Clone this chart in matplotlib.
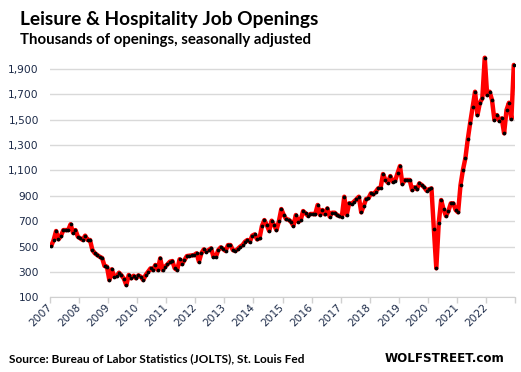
import matplotlib
matplotlib.use('Agg')
import matplotlib.pyplot as plt
import numpy as np

# Monthly job openings (thousands), Jan 2007 - Dec 2022
openings = [
    # 2007
    505, 552, 623, 557, 583, 630, 630, 630, 676, 609, 630, 578,
    # 2008
    565, 552, 586, 552, 552, 473, 447, 434, 420, 410, 347, 342,
    # 2009
    236, 321, 262, 267, 294, 273, 247, 197, 276, 250, 270, 250,
    # 2010
    273, 262, 236, 276, 302, 328, 315, 355, 315, 407, 315, 342,
    # 2011
    360, 381, 386, 328, 315, 400, 362, 394, 425, 428, 430, 433,
    # 2012
    447, 381, 447, 478, 460, 473, 486, 420, 420, 473, 494, 481,
    # 2013
    465, 512, 512, 473, 465, 481, 499, 512, 538, 552, 538, 586,
    # 2014
    596, 557, 565, 662, 709, 670, 623, 704, 670, 630, 699, 796,
    # 2015
    749, 717, 712, 696, 664, 749, 696, 709, 780, 762, 743, 757,
    # 2016
    757, 754, 828, 749, 788, 754, 801, 736, 767, 767, 749, 741,
    # 2017
    736, 893, 749, 841, 836, 854, 873, 893, 770, 820, 875, 881,
    # 2018
    920, 912, 933, 959, 964, 1072, 1025, 1004, 1056, 1012, 1020, 1078,
    # 2019
    1135, 993, 1025, 1025, 1025, 946, 967, 952, 999, 985, 967, 941,
    # 2020
    952, 959, 636, 329, 683, 867, 794, 741, 780, 841, 841, 788,
    # 2021
    770, 985, 1104, 1196, 1346, 1477, 1598, 1721, 1537, 1634, 1669, 1989,
    # 2022
    1695, 1721, 1656, 1498, 1537, 1493, 1511, 1393, 1577, 1634, 1506, 1932,
]
years = [str(y) for y in range(2007, 2023)]
yticks = [100, 300, 500, 700, 900, 1100, 1300, 1500, 1700, 1900]

title = "Leisure & Hospitality Job Openings"
subtitle = "Thousands of openings, seasonally adjusted"
source = "Source: Bureau of Labor Statistics (JOLTS), St. Louis Fed"
brand = "WOLFSTREET.com"

fig = plt.figure(figsize=(5.21, 3.72), dpi=100)
ax = fig.add_axes([0.096, 0.2008, 0.8925, 0.6546])

x = np.arange(len(openings)) + 0.5
ax.plot(x, openings, color='#ff0000', lw=3.2, zorder=3,
        solid_joinstyle='round', solid_capstyle='round')
ax.plot(x, openings, 'o', color='black', ms=2.7, mec='none', zorder=4)

ax.set_xlim(0, len(openings))
ax.set_ylim(100, 2020)
ax.set_yticks(yticks)
ax.set_yticklabels([f'{v:,}' for v in yticks])
ax.yaxis.grid(True, color='#d9d9d9', lw=1, zorder=0)
ax.set_axisbelow(True)

ax.set_xticks(np.arange(0, len(openings) + 1, 12))
ax.set_xticklabels(years + [''], rotation=45, ha='right', va='center',
                   rotation_mode='anchor')

for s in ['top', 'right', 'left']:
    ax.spines[s].set_visible(False)
ax.spines['bottom'].set_color('#d0d0d0')
ax.tick_params(axis='y', length=0, pad=8, labelsize=7.7, labelcolor='#1c2a48')
ax.tick_params(axis='x', length=4, width=1, color='#d0d0d0', direction='out',
               pad=2, labelsize=7.7, labelcolor='#1c2a48')

fig.text(20/521, 1 - 25/372, title, fontsize=13.8, fontweight='bold',
         family=['Lato', 'DejaVu Sans'], va='baseline', ha='left', color='black')
fig.text(20/521, 1 - 44/372, subtitle, fontsize=10.8, fontweight='bold',
         family=['Lato', 'DejaVu Sans'], va='baseline', ha='left', color='black')
fig.text(9/521, 1 - 362.5/372, source, fontsize=8.6, fontweight='bold',
         family=['Lato', 'DejaVu Sans'], va='baseline', ha='left', color='black')
fig.text(505/521, 1 - 362.5/372, brand, fontsize=8.6, fontweight='bold',
         family=['DejaVu Sans'], va='baseline', ha='right', color='black')

fig.savefig('out.png', dpi=100)
